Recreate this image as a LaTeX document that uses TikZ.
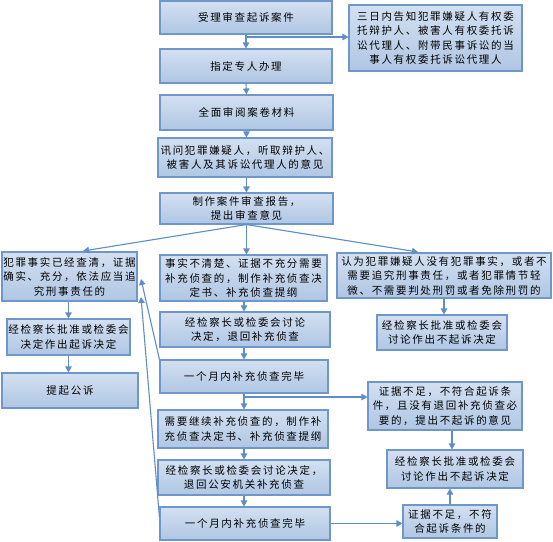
\documentclass[tikz,border=0pt]{standalone}
\usepackage{fontspec}
\newfontfamily\cjk[LetterSpace=16]{Noto Sans CJK SC}
\usetikzlibrary{arrows.meta}
\definecolor{boxline}{HTML}{7097C9}
\definecolor{boxtop}{HTML}{D3E0F1}
\definecolor{boxbot}{HTML}{AFC6E3}
\definecolor{arrowc}{HTML}{5F8DC6}
\tikzset{
  box/.style={draw=boxline, line width=1.1pt, top color=boxtop, bottom color=boxbot,
    inner sep=0pt, align=center, font=\cjk\fontsize{10.5}{14.5}\selectfont},
  conn/.style={draw=arrowc, line width=1.1pt, -{Triangle[length=6pt,width=6.5pt]}},
  plain/.style={draw=arrowc, line width=1.1pt}
}
\begin{document}
\begin{tikzpicture}[x=1pt,y=-1pt]
\useasboundingbox[fill=white] (0,0) rectangle (553,541);
% main column
\node[box, minimum width=172pt, minimum height=33pt] (b1) at (246,17.5) {受理审查起诉案件};
\node[box, minimum width=173pt, minimum height=66pt] (side) at (435.5,38) {三日内告知犯罪嫌疑人有权委\\托辩护人、被害人有权委托诉\\讼代理人、附带民事诉讼的当\\事人有权委托诉讼代理人};
\node[box, minimum width=172pt, minimum height=34pt] (b2) at (246,66) {指定专人办理};
\node[box, minimum width=173pt, minimum height=35pt] (b3) at (246.5,112.5) {全面审阅案卷材料};
\node[box, minimum width=174pt, minimum height=39pt] (b4) at (245,157.5) {讯问犯罪嫌疑人，听取辩护人、\\被害人及其诉讼代理人的意见};
\node[box, minimum width=173pt, minimum height=31pt] (b5) at (246.5,208.5) {制作案件审查报告，\\提出审查意见};
% left column
\node[box, minimum width=135pt, minimum height=49pt] (L1) at (69.5,276.5) {犯罪事实已经查清，证据\\确实、充分，依法应当追\\究刑事责任的};
\node[box, minimum width=123pt, minimum height=36pt] (L2) at (68.5,337) {经检察长批准或检委会\\决定作出起诉决定};
\node[box, minimum width=136pt, minimum height=35pt] (L3) at (70,390.5) {提起公诉};
% middle column
\node[box, minimum width=167pt, minimum height=46pt] (M1) at (243.5,278) {事实不清楚、证据不充分需要\\补充侦查的，制作补充侦查决\\定书、补充侦查提纲};
\node[box, minimum width=170pt, minimum height=35pt] (M2) at (245,329.5) {经检察长或检委会讨论\\决定，退回补充侦查};
\node[box, minimum width=168pt, minimum height=33pt] (M3) at (244,376.5) {一个月内补充侦查完毕};
\node[box, minimum width=170pt, minimum height=38pt] (M4) at (243,429) {需要继续补充侦查的，制作补\\充侦查决定书、补充侦查提纲};
\node[box, minimum width=172pt, minimum height=35pt] (M5) at (244,477.5) {经检察长或检委会讨论决定，\\退回公安机关补充侦查};
\node[box, minimum width=170pt, minimum height=33pt] (M6) at (245,523.5) {一个月内补充侦查完毕};
% right column
\node[box, minimum width=214pt, minimum height=45pt] (R1) at (444,275.5) {认为犯罪嫌疑人没有犯罪事实，或者不\\需要追究刑事责任，或者犯罪情节轻\\微、不需要判处刑罚或者免除刑罚的};
\node[box, minimum width=130pt, minimum height=35pt] (R2) at (442,332.5) {经检察长批准或检委会\\讨论作出不起诉决定};
\node[box, minimum width=154pt, minimum height=48pt] (R3) at (445,406) {证据不足，不符合起诉条\\件，且没有退回补充侦查必\\要的，提出不起诉的意见};
\node[box, minimum width=136pt, minimum height=38pt] (R4) at (455,469) {经检察长批准或检委会\\讨论作出不起诉决定};
\node[box, minimum width=94pt, minimum height=33pt] (R5) at (450,521.5) {证据不足，不符\\合起诉条件的};
% junctions and free ends
\coordinate (j1) at (246,37);
\coordinate (j2) at (244,397);
\coordinate (t1) at (141,279);
\coordinate (t2) at (141,297);
\coordinate (tl) at (83,251);
\coordinate (tr) at (418,252);
% connectors
\draw[conn] (b1.south) -- (b2.north);
\draw[conn] (j1) -- (j1 -| side.west);
\draw[conn] (b2.south) -- (b3.north);
\draw[conn] (b3.south) -- (b4.north -| b3.south);
\draw[conn] (b4.south -| b3.south) -- (b5.north);
\draw[conn] (b5.south) -- (b5.south |- M1.north);
\draw[conn] (b5.south) -- (tl);
\draw[conn] (b5.south) -- (tr);
\draw[conn] (L1.south -| L2.north) -- (L2.north);
\draw[conn] (L2.south) -- (L2.south |- L3.north);
\draw[conn] (M1.south -| M3.north) -- (M3.north |- M2.north);
\draw[conn] (M2.south -| M3.north) -- (M3.north);
\draw[conn] (R1.south) -- (R1.south |- R2.north);
\draw[conn] (M3.south) -- (M3.south |- M4.north);
\draw[conn] (j2) -- (j2 -| R3.west);
\draw[conn] (M3.north west) -- (t1);
\draw[conn] ([yshift=6pt]M6.west) -- (t2);
\draw[conn] (M4.south -| M3.south) -- (M3.south |- M5.north);
\draw[conn] (M5.south -| M3.south) -- (M3.south |- M6.north);
\draw[conn] (M6.east) -- (M6.east -| R5.west);
\draw[conn] ([xshift=7pt]R3.south) -- ([xshift=7pt]R3.south |- R4.north);
\draw[conn] (R5.north) -- (R5.north |- R4.south);
\end{tikzpicture}
\end{document}
